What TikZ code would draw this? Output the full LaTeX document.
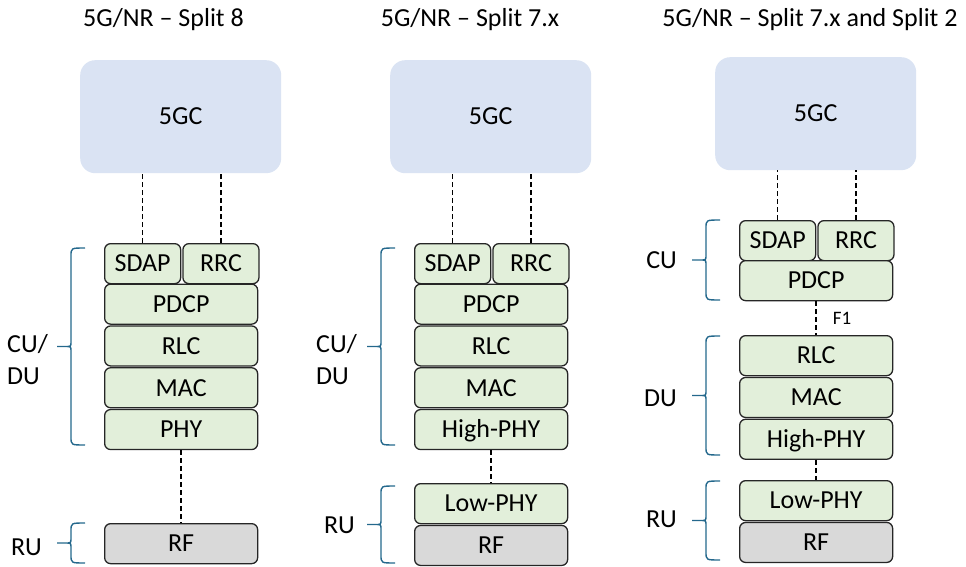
\documentclass[tikz,border=0pt]{standalone}
\usepackage{fontspec}
\setmainfont{Carlito}
\usetikzlibrary{positioning}
\definecolor{color_core}{RGB}{218, 227, 243}
\definecolor{color_layer}{RGB}{226, 239, 218}
\definecolor{color_rf}{RGB}{217, 217, 217}
\definecolor{color_brace}{RGB}{36, 104, 140}

% curly brace, tip to the left: #1 = x of arm ends, #2 = top, #3 = bottom
\newcommand{\unitbrace}[3]{%
    \pgfmathsetmacro{\bmid}{(#2+#3)/2}
    \draw[color_brace,line width=1.4pt]
        (#1,#2) .. controls ({#1-14},#2) .. ({#1-14},{#2+8})
        -- ({#1-14},{\bmid-5}) .. controls ({#1-14},\bmid) .. ({#1-19},\bmid)
        -- ({#1-28},\bmid)
        ({#1-28},\bmid) -- ({#1-19},\bmid)
        .. controls ({#1-14},\bmid) .. ({#1-14},{\bmid+5})
        -- ({#1-14},{#3-8}) .. controls ({#1-14},#3) .. (#1,#3);
}

\begin{document}
\begin{tikzpicture}[
    x=1pt, y=-1pt,
    every node/.style={font=\fontsize{26}{32}\selectfont},
    core/.style={fill=color_core,rounded corners=15pt,minimum width=201pt,minimum height=113pt,
        inner sep=0pt,text height=16.5pt,text depth=0pt},
    layer/.style={draw=black!85,line width=1.3pt,fill=color_layer,rounded corners=6pt,
        minimum width=153pt,minimum height=40pt,inner sep=0pt,text height=16.5pt,text depth=0pt},
    halflayer/.style={layer,minimum width=76pt},
    rflayer/.style={layer,fill=color_rf},
    link/.style={line width=1.6pt,dash pattern=on 5pt off 3pt},
    unitlabel/.style={align=left,inner sep=0pt}
]
    % picture is 966 x 567, y runs downwards
    \useasboundingbox (0,0) rectangle (966,567);

    % titles
    \node[anchor=base] (titleA) at (163.5,27) {5G/NR -- Split 8};
    \node[anchor=base] (titleB) at (470,27) {5G/NR -- Split 7.x};
    \node[anchor=base] (titleC) at (810,27) {5G/NR -- Split 7.x and Split 2};

    % Split 8
    \node[core,anchor=north west] (coreA) at (80,60) {5GC};
    \node[halflayer,anchor=north west] (sdapA) at (104,243) {SDAP};
    \node[halflayer,right=1pt of sdapA] (rrcA) {RRC};
    \node[layer,anchor=north west] (pdcpA) at (104,283.5) {PDCP};
    \node[layer,below=0.5pt of pdcpA] (rlcA) {RLC};
    \node[layer,below=0.5pt of rlcA] (macA) {MAC};
    \node[layer,below=0.5pt of macA] (phyA) {PHY};
    \node[rflayer,anchor=north west] (rfA) at (104,523) {RF};

    \draw[link] (sdapA.north) -- (sdapA.north |- coreA.south);
    \draw[link] (rrcA.north) -- (rrcA.north |- coreA.south);
    \draw[link] (phyA.south) -- (rfA.north);

    \node[unitlabel,anchor=east] (cuduA) at (48,360) {CU/\\DU};
    \node[unitlabel,anchor=east] (ruA) at (42,547) {RU};
    \unitbrace{85}{248}{445}
    \unitbrace{85}{523}{563}

    % Split 7.x
    \node[core,anchor=north west] (coreB) at (390,60) {5GC};
    \node[halflayer,anchor=north west] (sdapB) at (414,243) {SDAP};
    \node[halflayer,right=1pt of sdapB] (rrcB) {RRC};
    \node[layer,anchor=north west] (pdcpB) at (414,283.5) {PDCP};
    \node[layer,below=0.5pt of pdcpB] (rlcB) {RLC};
    \node[layer,below=0.5pt of rlcB] (macB) {MAC};
    \node[layer,below=0.5pt of macB] (hphyB) {High-PHY};
    \node[layer,anchor=north west] (lphyB) at (414,483) {Low-PHY};
    \node[rflayer,below=0.5pt of lphyB] (rfB) {RF};

    \draw[link] (sdapB.north) -- (sdapB.north |- coreB.south);
    \draw[link] (rrcB.north) -- (rrcB.north |- coreB.south);
    \draw[link] (hphyB.south) -- (lphyB.north);

    \node[unitlabel,anchor=east] (cuduB) at (357,360) {CU/\\DU};
    \node[unitlabel,anchor=east] (ruB) at (355,525) {RU};
    \unitbrace{395}{248}{445}
    \unitbrace{395}{486}{563}

    % Split 7.x and Split 2
    \node[core,anchor=north west] (coreC) at (715,57) {5GC};
    \node[halflayer,anchor=north west] (sdapC) at (739,220) {SDAP};
    \node[halflayer,right=1pt of sdapC] (rrcC) {RRC};
    \node[layer,anchor=north west] (pdcpC) at (739,260) {PDCP};
    \node[layer,anchor=north west] (rlcC) at (739,335) {RLC};
    \node[layer,below=0.5pt of rlcC] (macC) {MAC};
    \node[layer,below=0.5pt of macC] (hphyC) {High-PHY};
    \node[layer,anchor=north west] (lphyC) at (739,480) {Low-PHY};
    \node[rflayer,below=0.5pt of lphyC] (rfC) {RF};

    \draw[link] (sdapC.north) -- (sdapC.north |- coreC.south);
    \draw[link] (rrcC.north) -- (rrcC.north |- coreC.south);
    \draw[link] (pdcpC.south) -- (rlcC.north)
        node[midway,anchor=west,inner sep=0pt,xshift=16pt,font=\fontsize{19}{22}\selectfont] (f1C) {F1};
    \draw[link] (hphyC.south) -- (lphyC.north);

    \node[unitlabel,anchor=east] (cuC) at (677,260) {CU};
    \node[unitlabel,anchor=east] (duC) at (677,398) {DU};
    \node[unitlabel,anchor=east] (ruC) at (677,519) {RU};
    \unitbrace{720}{220}{300}
    \unitbrace{720}{336}{455}
    \unitbrace{720}{481}{560}

\end{tikzpicture}
\end{document}
